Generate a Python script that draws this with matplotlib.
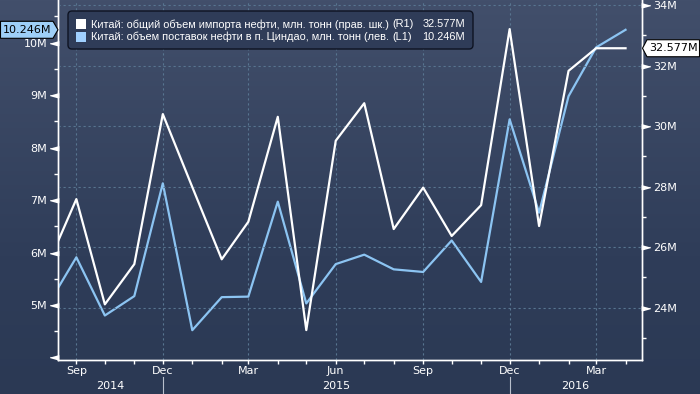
# -*- coding: utf-8 -*-
"""
Китай: импорт нефти (R1) и поставки нефти в порт Циндао (L1), 2014-2016
"""
import numpy as np
import pandas as pd
import matplotlib
matplotlib.use('Agg')
import matplotlib.pyplot as plt
import matplotlib.dates as mdates
import matplotlib.transforms as mtransforms
from matplotlib.ticker import MultipleLocator
from matplotlib.patches import FancyBboxPatch, Rectangle, Polygon
from matplotlib.colors import LinearSegmentedColormap

# ========== Данные ==========
months = pd.date_range('2014-08-01', '2016-04-01', freq='MS')
china_total = [25.35, 27.59, 24.11, 25.44, 30.40, 27.99, 25.60, 26.84, 30.31, 23.26,
               29.52, 30.76, 26.60, 27.97, 26.37, 27.39, 33.21, 26.70, 31.83, 32.577, 32.577]
qingdao = [4.97, 5.91, 4.80, 5.17, 7.32, 4.52, 5.15, 5.16, 6.97, 5.03,
           5.78, 5.96, 5.68, 5.63, 6.23, 5.44, 8.54, 6.76, 8.98, 9.91, 10.246]

legend_names = ['Китай: общий объем импорта нефти, млн. тонн (прав. шк.)',
                'Китай: объем поставок нефти в п. Циндао, млн. тонн (лев.']
legend_axes = ['(R1)', '(L1)']
last_labels = ['32.577M', '10.246M']

left_ticks = [4, 5, 6, 7, 8, 9, 10]
left_labels = ['', '5M', '6M', '7M', '8M', '9M', '10M']
right_ticks = [24, 26, 28, 30, 32, 34]
right_labels = ['24M', '26M', '28M', '30M', '32M', '34M']

years = ['2014', '2015', '2016']
year_breaks = pd.to_datetime(['2014-12-01', '2015-12-01'])
x_start, x_end = pd.Timestamp('2014-08-13'), pd.Timestamp('2016-04-18')

# ========== Style ==========
white = '#ffffff'
blue = '#8cc4f2'
grid_col = '#587590'
W, H = 700, 394

fig = plt.figure(figsize=(W / 100, H / 100), dpi=100)

# fond dégradé
bg = fig.add_axes([0, 0, 1, 1], zorder=-5)
cmap = LinearSegmentedColormap.from_list('bb', [(0, '#424f6b'), (0.65, '#2f3d59'), (1, '#2b3954')])
bg.imshow(np.linspace(0, 1, 256).reshape(-1, 1), aspect='auto', cmap=cmap, extent=[0, 1, 0, 1])
bg.axis('off')

ax = fig.add_axes([58.3 / W, 34 / H, (641.7 - 58.3) / W, 360 / H])
ax2 = ax.twinx()
for a in (ax, ax2):
    a.set_facecolor('none')
    a.spines['top'].set_visible(False)
    for s in ('left', 'right', 'bottom'):
        a.spines[s].set_color(white)
        a.spines[s].set_linewidth(1)

ax.plot(months, qingdao, color=blue, lw=1.6, zorder=3)
ax2.plot(months, china_total, color=white, lw=1.6, zorder=3)

ax.set_xlim(x_start, x_end)
ax.set_ylim(3.952, 10.814)
ax2.set_ylim(22.271, 34.172)

# ---- axe x
ax.xaxis.set_major_locator(mdates.MonthLocator(bymonth=[3, 6, 9, 12]))
ax.xaxis.set_major_formatter(mdates.DateFormatter('%b'))
ax.xaxis.set_minor_locator(mdates.MonthLocator())
ax.tick_params(axis='x', which='both', length=3, width=1, color=white,
               labelcolor=white, labelsize=8, pad=1.5)
ax.grid(axis='x', which='major', color=grid_col, lw=0.8, ls=(0, (2, 2.5)))

ylab = mtransforms.blended_transform_factory(ax.transData, ax.transAxes)
edges = [mdates.date2num(x_start)] + list(mdates.date2num(year_breaks)) + [mdates.date2num(x_end)]
for i, yr in enumerate(years):
    ax.text((edges[i] + edges[i + 1]) / 2, -0.072, yr, transform=ylab, ha='center', va='center',
            color=white, fontsize=8)
for d in year_breaks:
    ax.plot([d, d], [-0.047, -0.1], transform=ylab, color='#b8bfcc', lw=0.8, clip_on=False)

# ---- axe gauche (L1)
ax.set_yticks(left_ticks)
ax.set_yticklabels(left_labels)
ax.yaxis.set_minor_locator(MultipleLocator(0.5))
ax.tick_params(axis='y', which='major', length=0, pad=8, labelcolor=white, labelsize=8)
ax.tick_params(axis='y', which='minor', length=3, width=1, color=white)

# ---- axe droit (R1)
ax2.set_yticks(right_ticks)
ax2.set_yticklabels(right_labels)
ax2.yaxis.set_minor_locator(MultipleLocator(1))
ax2.tick_params(axis='y', which='major', length=0, pad=8, labelcolor=white, labelsize=8)
ax2.tick_params(axis='y', which='minor', length=3, width=1, color=white)
ax2.grid(axis='y', which='major', color=grid_col, lw=0.8, ls=(0, (2, 2.5)))

# triangles des graduations
tri_left = [(1, 0.55), (1, -0.55), (-1, 0)]
tri_right = [(-1, 0.55), (-1, -0.55), (1, 0)]
tl = mtransforms.blended_transform_factory(ax.transAxes, ax.transData)
tr = mtransforms.blended_transform_factory(ax2.transAxes, ax2.transData)
ax.plot([-0.0068] * len(left_ticks), left_ticks, ls='none', marker=tri_left, ms=6,
        color=white, transform=tl, clip_on=False)
ax2.plot([1.0068] * len(right_ticks), right_ticks, ls='none', marker=tri_right, ms=6,
         color=white, transform=tr, clip_on=False)

# étiquettes des dernières valeurs (en pixels)
ident = mtransforms.IdentityTransform()


def value_tag(axis, yval, text, fc, side):
    y = axis.transData.transform((0, yval))[1]
    h = 8.5
    if side == 'left':
        pts = [(0.5, y - h), (53, y - h), (58, y), (53, y + h), (0.5, y + h)]
        xc = 27
    else:
        pts = [(699.5, y - h), (647, y - h), (642.5, y), (647, y + h), (699.5, y + h)]
        xc = 673.5
    fig.add_artist(Polygon(pts, closed=True, transform=ident, fc=fc, ec='black', lw=0.8, zorder=6))
    fig.text(xc / W, y / H, text, ha='center', va='center', fontsize=8, color='black', zorder=7)


value_tag(ax, qingdao[-1], last_labels[1], '#9ecff7', 'left')
value_tag(ax2, china_total[-1], last_labels[0], white, 'right')

# ---- légende
fig.add_artist(FancyBboxPatch((68, H - 49), 405, 38, boxstyle='round,pad=0,rounding_size=4',
                              transform=ident, fc='#2f3c58', ec='#0e1322', lw=1, zorder=5))
leg_font = ['Liberation Sans', 'DejaVu Sans']
rows_y = [24.3, 36.8]
for name, axn, val, col, yy in zip(legend_names, legend_axes, last_labels,
                                   [white, '#a0d0ff'], rows_y):
    fig.add_artist(Rectangle((76, H - yy - 5), 10, 10, transform=ident, fc=col, ec='none', zorder=6))
    fig.text(90.7 / W, 1 - yy / H, name, ha='left', va='center', color=white,
             fontsize=7.9, family=leg_font, zorder=6)
    fig.text(392 / W, 1 - yy / H, axn, ha='left', va='center', color=white,
             fontsize=7.9, family=leg_font, zorder=6)
    fig.text(465 / W, 1 - yy / H, val, ha='right', va='center', color=white,
             fontsize=7.9, family=leg_font, zorder=6)

fig.savefig('out.png', dpi=100, facecolor='#2b3954')
